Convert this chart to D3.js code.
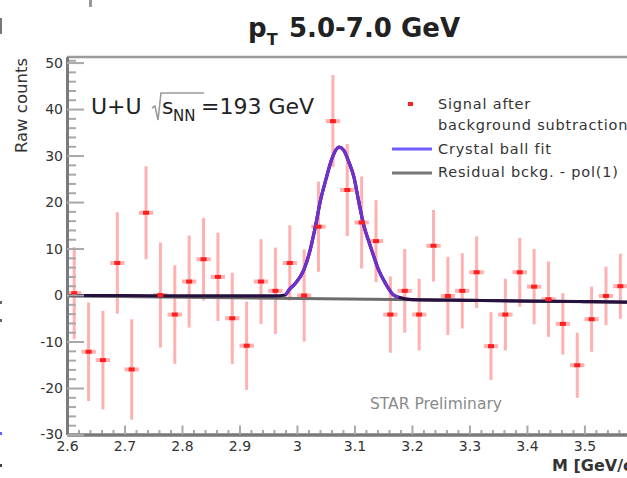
<!DOCTYPE html>
<html>
<head>
<meta charset="utf-8">
<script src="https://cdn.jsdelivr.net/npm/d3@7"></script>
<style>
  html, body { margin: 0; padding: 0; background: #fff; overflow: hidden; }
  svg { display: block; }
  text { font-family: "DejaVu Sans", sans-serif; }
</style>
</head>
<body>
<svg id="chart" width="627" height="478"></svg>
<script>
// Invariant-mass bin centres [GeV/c^2], 0.025 GeV wide bins
const binCenters = [2.6125, 2.6375, 2.6625, 2.6875, 2.7125, 2.7375, 2.7625, 2.7875, 2.8125, 2.8375,
                    2.8625, 2.8875, 2.9125, 2.9375, 2.9625, 2.9875, 3.0125, 3.0375, 3.0625, 3.0875,
                    3.1125, 3.1375, 3.1625, 3.1875, 3.2125, 3.2375, 3.2625, 3.2875, 3.3125, 3.3375,
                    3.3625, 3.3875, 3.4125, 3.4375, 3.4625, 3.4875, 3.5125, 3.5375, 3.5625];
// Signal after background subtraction (raw counts) and statistical errors
const counts = [0.4, -12.2, -14.0, 6.9, -16.0, 17.7, 0.0, -4.2, 2.9, 7.7,
                3.9, -5.0, -10.9, 2.9, 0.9, 6.9, -0.1, 14.7, 37.4, 22.6,
                15.6, 11.6, -4.2, 0.9, -4.2, 10.6, -0.2, 0.9, 4.9, -11.0,
                -4.2, 4.9, 1.8, -0.9, -6.2, -15.1, -5.2, -0.2, 1.9];
const errors = [9.9, 10.6, 10.6, 10.9, 10.8, 10.0, 11.3, 10.6, 9.9, 8.9,
                9.5, 9.8, 9.5, 9.1, 9.3, 8.1, 9.9, 9.7, 9.9, 9.9,
                9.9, 8.8, 8.2, 9.0, 7.7, 7.7, 8.4, 8.1, 7.7, 7.3,
                7.7, 7.4, 8.1, 8.1, 6.6, 7.0, 7.0, 6.3, 7.0];
const binHalfWidth = 0.0125;

// Crystal ball fit (signal + residual background), sampled
const fitMass   = [2.60, 2.70, 2.80, 2.90, 2.96, 2.980, 2.986, 2.997, 3.012, 3.023, 3.032, 3.041, 3.050,
                   3.061, 3.073, 3.081, 3.090, 3.099, 3.107, 3.116, 3.125, 3.134, 3.142, 3.154, 3.168,
                   3.177, 3.20, 3.30, 3.40, 3.50, 3.60, 3.70];
const fitCounts = [-0.1, -0.1, -0.2, -0.2, -0.2, 0.0, 1.1, 2.5, 5.4, 9.7, 14.7, 20.4, 24.7,
                   29.4, 31.8, 31.2, 28.7, 25.4, 20.4, 15.1, 11.5, 8.2, 5.4, 2.5, 0.0,
                   -0.5, -1.0, -1.15, -1.3, -1.4, -1.55, -1.7];
const peakRange = [2.975, 3.18];

// Residual background, pol(1)
const bkgMass   = [2.6, 3.7];
const bkgCounts = [-0.2, -1.7];

// Axis ticks
const xTickValues = [2.6, 2.7, 2.8, 2.9, 3.0, 3.1, 3.2, 3.3, 3.4, 3.5];
const xTickLabels = ["2.6", "2.7", "2.8", "2.9", "3", "3.1", "3.2", "3.3", "3.4", "3.5"];
const xMinorTicks = [2.62, 2.64, 2.66, 2.68, 2.72, 2.74, 2.76, 2.78, 2.82, 2.84, 2.86, 2.88,
                     2.92, 2.94, 2.96, 2.98, 3.02, 3.04, 3.06, 3.08, 3.12, 3.14, 3.16, 3.18,
                     3.22, 3.24, 3.26, 3.28, 3.32, 3.34, 3.36, 3.38, 3.42, 3.44, 3.46, 3.48,
                     3.52, 3.54, 3.56, 3.58];
const yTickValues = [-30, -20, -10, 0, 10, 20, 30, 40, 50];
const yTickLabels = ["-30", "-20", "-10", "0", "10", "20", "30", "40", "50"];
const yMinorTicks = [-28, -26, -24, -22, -18, -16, -14, -12, -8, -6, -4, -2, 2, 4, 6, 8,
                     12, 14, 16, 18, 22, 24, 26, 28, 32, 34, 36, 38, 42, 44, 46, 48, 50.5];

const legendLabels = ["Signal after", "background subtraction", "Crystal ball fit", "Residual bckg. - pol(1)"];

const svg = d3.select("#chart");
const x = d3.scaleLinear().domain([2.6, 3.7]).range([67, 699.4]);
const y = d3.scaleLinear().domain([-30, 51.2]).range([434.5, 57]);

// edge of the adjacent panel
const edge = svg.append("g");
edge.append("rect").attr("x", 0).attr("y", 18).attr("width", 2).attr("height", 16).attr("fill", "#777");
edge.append("rect").attr("x", 89).attr("y", 0).attr("width", 3).attr("height", 7).attr("fill", "#999");
edge.append("rect").attr("x", 0).attr("y", 301).attr("width", 2).attr("height", 3).attr("fill", "#666");
edge.append("rect").attr("x", 0).attr("y", 319).attr("width", 2).attr("height", 3).attr("fill", "#666");
edge.append("rect").attr("x", 0).attr("y", 432).attr("width", 2).attr("height", 3).attr("fill", "#6060ff");
edge.append("rect").attr("x", 0).attr("y", 464).attr("width", 2).attr("height", 3).attr("fill", "#444");

// frame top edge
svg.append("line")
  .attr("x1", x(2.6)).attr("x2", x(3.7))
  .attr("y1", y(51.2)).attr("y2", y(51.2))
  .attr("stroke", "#9a9a9a").attr("stroke-width", 2.5);

const pts = binCenters.map((m, i) => ({ m, c: counts[i], e: errors[i] }));

// error bars
const bars = svg.append("g");
bars.selectAll("line.ey").data(pts).join("line").attr("class", "ey")
  .attr("x1", d => x(d.m)).attr("x2", d => x(d.m))
  .attr("y1", d => y(d.c - d.e)).attr("y2", d => y(d.c + d.e))
  .attr("stroke", "#ffb0b0").attr("stroke-width", 3);
bars.selectAll("line.ex").data(pts).join("line").attr("class", "ex")
  .attr("x1", d => x(d.m - binHalfWidth)).attr("x2", d => x(d.m + binHalfWidth))
  .attr("y1", d => y(d.c)).attr("y2", d => y(d.c))
  .attr("stroke", "#ffb0b0").attr("stroke-width", 4);

// residual background
const bkgLine = d3.line().x(d => x(d[0])).y(d => y(d[1]));
svg.append("path")
  .datum(bkgMass.map((m, i) => [m, bkgCounts[i]]))
  .attr("d", bkgLine).attr("fill", "none")
  .attr("stroke", "#6c6c6c").attr("stroke-width", 3);

// fit curve: dark where it sits on the background, purple across the peak
const fitPts = fitMass.map((m, i) => [m, fitCounts[i]]);
const fitLine = d3.line().x(d => x(d[0])).y(d => y(d[1])).curve(d3.curveMonotoneX);
svg.append("path").datum(fitPts).attr("d", fitLine).attr("fill", "none")
  .attr("stroke", "#26103e").attr("stroke-width", 3.2);
svg.append("path")
  .datum(fitPts.filter(d => d[0] >= peakRange[0] && d[0] <= peakRange[1]))
  .attr("d", fitLine).attr("fill", "none")
  .attr("stroke", "#7030d0").attr("stroke-width", 3.2).attr("stroke-linejoin", "round");

// markers
svg.append("g").selectAll("rect").data(pts).join("rect")
  .attr("x", d => x(d.m) - 3).attr("y", d => y(d.c) - 2)
  .attr("width", 6).attr("height", 4).attr("fill", "#ff1f1f");

// axes
function styleAxis(g) {
  g.select(".domain").attr("stroke", "#7a7a7a").attr("stroke-width", 3);
  g.selectAll(".tick line").attr("stroke", "#a8a8a8").attr("stroke-width", 2);
  g.selectAll(".tick text").attr("fill", "#333").attr("font-size", 14)
    .attr("font-family", "DejaVu Sans, sans-serif");
}
const xAxisG = svg.append("g").attr("transform", `translate(0,${y(-30)})`);
xAxisG.call(d3.axisBottom(x).tickValues(xMinorTicks).tickFormat("").tickSize(-4.5).tickSizeOuter(0));
xAxisG.call(styleAxis);
const xAxisMajor = svg.append("g").attr("transform", `translate(0,${y(-30)})`)
  .call(d3.axisBottom(x).tickValues(xTickValues).tickFormat((d, i) => xTickLabels[i])
    .tickSize(-9).tickSizeOuter(0).tickPadding(7));
xAxisMajor.call(styleAxis);

const yAxisG = svg.append("g").attr("transform", `translate(${x(2.6)},0)`);
yAxisG.call(d3.axisLeft(y).tickValues(yMinorTicks).tickFormat("").tickSize(-9).tickSizeOuter(0));
yAxisG.call(styleAxis);
const yAxisMajor = svg.append("g").attr("transform", `translate(${x(2.6)},0)`)
  .call(d3.axisLeft(y).tickValues(yTickValues).tickFormat((d, i) => yTickLabels[i])
    .tickSize(-17).tickSizeOuter(0).tickPadding(4));
yAxisMajor.call(styleAxis);

// axis titles
svg.append("text")
  .attr("transform", "translate(27,58) rotate(-90)")
  .attr("text-anchor", "end").attr("font-size", 16.5).attr("fill", "#333")
  .text("Raw counts");
const xTitle = svg.append("text").attr("x", 552).attr("y", 471)
  .attr("font-size", 16).attr("font-weight", "bold").attr("fill", "#333");
xTitle.append("tspan").text("M [GeV/c");
xTitle.append("tspan").attr("dy", -6).attr("font-size", 11).text("2");
xTitle.append("tspan").attr("dy", 6).text("]");

// title
const title = svg.append("text").attr("x", 248).attr("y", 37)
  .attr("font-size", 26).attr("font-weight", "bold").attr("fill", "#222");
title.append("tspan").text("p");
title.append("tspan").attr("dy", 8).attr("font-size", 16).text("T");
title.append("tspan").attr("x", 289).attr("dy", -8).text("5.0-7.0 GeV");

// collision system label
const sys = svg.append("g").attr("fill", "#222");
sys.append("text").attr("x", 91).attr("y", 114).attr("font-size", 22).text("U+U");
sys.append("path").attr("d", "M152,108 L155,106 L158,120 L161,93 L204,93")
  .attr("fill", "none").attr("stroke", "#9a9a9a").attr("stroke-width", 1.6);
sys.append("text").attr("x", 162).attr("y", 114).attr("font-size", 22).text("s");
sys.append("text").attr("x", 173).attr("y", 121).attr("font-size", 15).text("NN");
sys.append("text").attr("x", 201).attr("y", 114).attr("font-size", 22).text("=193 GeV");

// preliminary tag
svg.append("text").attr("x", 370).attr("y", 409).attr("font-size", 15.5)
  .attr("fill", "#8a8a8a").text("STAR Preliminary");

// legend
const leg = svg.append("g");
leg.append("rect").attr("x", 408).attr("y", 102).attr("width", 5).attr("height", 4).attr("fill", "#ff1f1f");
leg.append("line").attr("x1", 392).attr("x2", 432).attr("y1", 149).attr("y2", 149)
  .attr("stroke", "#6f5cff").attr("stroke-width", 3);
leg.append("line").attr("x1", 392).attr("x2", 432).attr("y1", 173).attr("y2", 173)
  .attr("stroke", "#777").attr("stroke-width", 3);
const legY = [108.5, 129.5, 154, 176.5];
leg.selectAll("text").data(legendLabels).join("text")
  .attr("x", 438).attr("y", (d, i) => legY[i])
  .attr("font-size", 14.5).attr("letter-spacing", 0.8).attr("fill", "#333")
  .text(d => d);
</script>
</body>
</html>
